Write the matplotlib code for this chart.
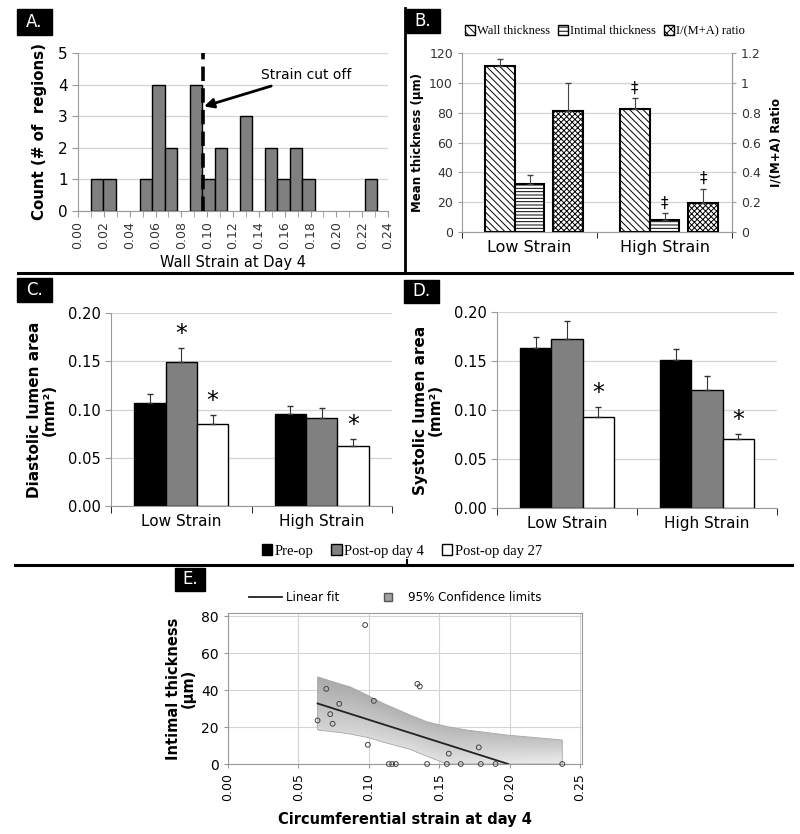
import matplotlib
matplotlib.use('Agg')
import matplotlib.pyplot as plt
from matplotlib.patches import Rectangle, Patch, Polygon
from matplotlib.lines import Line2D
import numpy as np

# ---- A: histogram of wall strain at day 4 ----
hist_left = [0.0098, 0.0196, 0.0477, 0.0575, 0.0673, 0.0866, 0.0963, 0.1060,
             0.1253, 0.1446, 0.1543, 0.1640, 0.1736, 0.2220]
hist_count = [1, 1, 1, 4, 2, 4, 1, 2, 3, 2, 1, 2, 1, 1]
hist_width = 0.0097
cutoff = 0.097

# ---- B: thickness by strain group ----
groups = ['Low Strain', 'High Strain']
wall_mean = [111, 82.5]
wall_err = [5, 7]
intimal_mean = [32, 8]
intimal_err = [6, 4.5]
ratio_mean = [0.81, 0.195]
ratio_err = [0.19, 0.095]

# ---- C: diastolic lumen area ----
dia_pre = [0.107, 0.095]
dia_pre_err = [0.009, 0.009]
dia_d4 = [0.149, 0.091]
dia_d4_err = [0.015, 0.011]
dia_d27 = [0.085, 0.062]
dia_d27_err = [0.009, 0.007]

# ---- D: systolic lumen area ----
sys_pre = [0.163, 0.151]
sys_pre_err = [0.011, 0.011]
sys_d4 = [0.172, 0.120]
sys_d4_err = [0.019, 0.015]
sys_d27 = [0.093, 0.070]
sys_d27_err = [0.010, 0.006]

# ---- E: intimal thickness vs circumferential strain ----
strain = [0.0636, 0.0698, 0.0726, 0.0743, 0.0790, 0.0974, 0.0993, 0.1036,
          0.1142, 0.1166, 0.1192, 0.1345, 0.1362, 0.1414, 0.1554, 0.1568,
          0.1653, 0.1781, 0.1795, 0.1900, 0.2374]
intimal = [23.6, 40.7, 27.0, 21.8, 32.6, 75.3, 10.4, 34.2,
           0, 0, 0, 43.4, 42.0, 0, 0, 5.6,
           0, 9.0, 0, 0, 0]
fit_x = [0.0636, 0.199]
fit_y = [32.8, 0.0]
band_x = [0.0636, 0.080, 0.0868, 0.099, 0.1104, 0.1294, 0.1412, 0.1554, 0.1696, 0.198, 0.2374]
band_hi = [47.2, 43.3, 41.8, 37.3, 32.8, 26.5, 22.9, 20.3, 18.4, 15.7, 13.0]
band_lo = [18.4, 17.0, 16.2, 14.4, 11.8, 7.9, 4.2, 0.0, 0.0, 0.0, 0.0]

W, H = 800, 834
plt.rcParams['font.family'] = 'DejaVu Sans'
plt.rcParams['hatch.linewidth'] = 0.7
GRID = '#d4d4d4'
SPINE = '#9a9a9a'
SERIF = 'Liberation Serif'

fig = plt.figure(figsize=(W / 100, H / 100), dpi=100)


def px_axes(l, t, r, b):
    return fig.add_axes([l / W, 1 - b / H, (r - l) / W, (b - t) / H])


def panel_label(txt, l, t, r, b):
    fig.patches.append(Rectangle((l / W, 1 - b / H), (r - l) / W, (b - t) / H,
                                 transform=fig.transFigure, color='black'))
    fig.text((l + r) / 2 / W, 1 - (t + b) / 2 / H, txt, color='white',
             fontsize=12, ha='center', va='center')


def fig_line(xs, ys, lw=2.2):
    fig.lines.append(Line2D([x / W for x in xs], [1 - y / H for y in ys],
                            transform=fig.transFigure, color='black', lw=lw))


def plain_spines(ax, keep=('left', 'bottom')):
    for s in ax.spines:
        ax.spines[s].set_visible(s in keep)
        ax.spines[s].set_color(SPINE)
    ax.set_axisbelow(True)
    ax.yaxis.grid(True, color=GRID, lw=0.9)
    ax.tick_params(color=SPINE)


# ---------------- Panel A ----------------
axA = px_axes(78, 53, 388, 211)
axA.bar(hist_left, hist_count, width=hist_width, align='edge',
        color='#808080', edgecolor='black', lw=1.0, zorder=2)
axA.plot([cutoff, cutoff], [0, 5], color='black', lw=2.6, dashes=(4, 2), zorder=3)
axA.annotate('Strain cut off', xy=(0.0976, 3.31), xytext=(0.1416, 4.29),
             fontsize=10, va='center', ha='left',
             arrowprops=dict(arrowstyle='-|>', color='black', lw=2,
                             mutation_scale=14, shrinkA=2, shrinkB=0))
axA.set_xlim(0, 0.24)
axA.set_ylim(0, 5)
axA.set_xticks(np.arange(0, 0.241, 0.02))
axA.set_xticks(np.arange(0, 0.241, 0.01), minor=True)
axA.set_xticklabels(['%.2f' % v for v in np.arange(0, 0.241, 0.02)],
                    rotation=90, fontsize=9, color='#333333')
axA.set_yticks(range(6))
axA.tick_params(axis='y', labelsize=11, length=4)
axA.tick_params(axis='x', which='both', length=4, color=SPINE)
plain_spines(axA)
axA.set_ylabel('Count (# of  regions)', fontsize=10.8, fontweight='bold', labelpad=8)
axA.set_xlabel('Wall Strain at Day 4', fontsize=10.5, labelpad=4)
panel_label('A.', 17, 9, 52, 35)

# ---------------- Panel B ----------------
axB = px_axes(462, 53, 732, 232)
axB2 = axB.twinx()
xg = np.arange(len(groups))
bw = 0.222
axB.bar(xg - 0.222, wall_mean, bw, yerr=[[0, 0], wall_err], facecolor='white',
        edgecolor='black', hatch='\\\\\\\\\\', lw=1.5,
        error_kw=dict(ecolor='#444444', elinewidth=0.8, capsize=2), zorder=2)
axB.bar(xg, intimal_mean, bw, yerr=[[0, 0], intimal_err], facecolor='white',
        edgecolor='black', hatch='-----', lw=1.5,
        error_kw=dict(ecolor='#444444', elinewidth=0.8, capsize=2), zorder=2)
axB2.bar(xg + 0.285, ratio_mean, bw, yerr=[[0, 0], ratio_err], facecolor='white',
         edgecolor='black', hatch='xxxxxx', lw=1.5,
         error_kw=dict(ecolor='#444444', elinewidth=0.8, capsize=2), zorder=2)
axB.set_xlim(-0.5, 1.5)
axB.set_ylim(0, 120)
axB2.set_ylim(0, 1.2)
axB.set_yticks(range(0, 121, 20))
axB2.set_yticks(np.arange(0, 1.21, 0.2))
axB2.set_yticklabels(['0', '0.2', '0.4', '0.6', '0.8', '1', '1.2'])
axB.set_xticks(xg)
axB.set_xticklabels(groups, fontsize=11.5)
axB.set_xticks([-0.5, 0.5, 1.5], minor=True)
axB.tick_params(axis='x', which='major', length=0, pad=6)
axB.tick_params(axis='x', which='minor', length=4)
axB.tick_params(axis='y', labelsize=9, length=3, labelcolor='#333333')
axB2.tick_params(axis='y', labelsize=9, length=3, labelcolor='#333333', color=SPINE)
plain_spines(axB, keep=('left', 'bottom', 'right'))
for s in axB2.spines:
    axB2.spines[s].set_visible(s == 'right')
    axB2.spines[s].set_color(SPINE)
axB.set_ylabel('Mean thickness (µm)', fontsize=8.5, fontweight='bold', labelpad=4)
axB2.set_ylabel('I/(M+A) Ratio', fontsize=8.5, fontweight='bold', labelpad=6)
for xv, yv in [(1 - 0.222, wall_mean[1] + wall_err[1]),
               (1, intimal_mean[1] + intimal_err[1])]:
    axB.text(xv, yv + 2, '‡', ha='center', va='bottom', fontsize=11)
axB2.text(1 + 0.285, ratio_mean[1] + ratio_err[1] + 0.02, '‡',
          ha='center', va='bottom', fontsize=11)
legB = [Patch(facecolor='white', edgecolor='black', hatch='\\\\\\\\'),
        Patch(facecolor='white', edgecolor='black', hatch='----'),
        Patch(facecolor='white', edgecolor='black', hatch='xxxx')]
fig.legend(legB, ['Wall thickness', 'Intimal thickness', 'I/(M+A) ratio'],
           loc='center', bbox_to_anchor=(605 / W, 1 - 31 / H), ncol=3,
           frameon=False, prop=dict(family=SERIF, size=9),
           handlelength=0.8, handleheight=0.8, handletextpad=0.2,
           columnspacing=0.6)
panel_label('B.', 406, 9, 440, 33)


# ---------------- Panels C and D ----------------
def lumen_panel(box, pre, pre_e, d4, d4_e, d27, d27_e, ylabel, stars):
    ax = px_axes(*box)
    ek = dict(ecolor='#333333', elinewidth=0.8, capsize=2)
    ax.bar(xg - 0.224, pre, 0.224, yerr=[[0, 0], pre_e], color='black',
           edgecolor='black', lw=1, error_kw=ek, zorder=2)
    ax.bar(xg, d4, 0.224, yerr=[[0, 0], d4_e], color='#808080',
           edgecolor='black', lw=1, error_kw=ek, zorder=2)
    ax.bar(xg + 0.224, d27, 0.224, yerr=[[0, 0], d27_e], color='white',
           edgecolor='black', lw=1, error_kw=ek, zorder=2)
    series = {'pre': (pre, pre_e, -0.224), 'd4': (d4, d4_e, 0.0),
              'd27': (d27, d27_e, 0.224)}
    for key, g in stars:
        vals, errs, off = series[key]
        ax.text(g + off, vals[g] + errs[g] + 0.002, '*', ha='center',
                va='bottom', fontsize=17)
    ax.set_xlim(-0.5, 1.5)
    ax.set_ylim(0, 0.2)
    ax.set_yticks(np.arange(0, 0.201, 0.05))
    ax.set_yticklabels(['%.2f' % v for v in np.arange(0, 0.201, 0.05)])
    ax.set_xticks(xg)
    ax.set_xticklabels(groups, fontsize=11)
    ax.set_xticks([-0.5, 0.5, 1.5], minor=True)
    ax.tick_params(axis='x', which='major', length=0, pad=6)
    ax.tick_params(axis='x', which='minor', length=5)
    ax.tick_params(axis='y', labelsize=10.5, length=4)
    plain_spines(ax)
    ax.set_ylabel(ylabel, fontsize=11, fontweight='bold', labelpad=8,
                  linespacing=1.0)
    return ax


lumen_panel((111, 313, 392, 506), dia_pre, dia_pre_err, dia_d4, dia_d4_err,
            dia_d27, dia_d27_err, 'Diastolic lumen area\n(mm²)',
            [('d4', 0), ('d27', 0), ('d27', 1)])
lumen_panel((497, 312, 777, 508), sys_pre, sys_pre_err, sys_d4, sys_d4_err,
            sys_d27, sys_d27_err, 'Systolic lumen area\n(mm²)',
            [('d27', 0), ('d27', 1)])
panel_label('C.', 17, 278, 52, 302)
panel_label('D.', 404, 280, 439, 303)
legCD = [Patch(facecolor='black', edgecolor='black'),
         Patch(facecolor='#808080', edgecolor='black'),
         Patch(facecolor='white', edgecolor='black')]
fig.legend(legCD, ['Pre-op', 'Post-op day 4', 'Post-op day 27'],
           loc='center', bbox_to_anchor=(402 / W, 1 - 551 / H), ncol=3,
           frameon=False, prop=dict(family=SERIF, size=10.5),
           handlelength=0.7, handleheight=0.7, handletextpad=0.2,
           columnspacing=1.2)

# ---------------- Panel E ----------------
axE = px_axes(228, 613, 582, 764)
poly = np.column_stack([band_x + band_x[::-1], band_hi + band_lo[::-1]])
patch = Polygon(poly, closed=True, facecolor='none', edgecolor='#a8a8a8',
                lw=0.6, zorder=2)
axE.add_patch(patch)
gx, gy = np.meshgrid(np.linspace(0.06, 0.24, 200), np.linspace(0, 48, 200))
lo = np.interp(gx, band_x, band_lo)
hi = np.interp(gx, band_x, band_hi)
t = np.clip((gy - lo) / np.maximum(hi - lo, 1e-6), 0, 1)
shade = 0.93 - 0.17 * t - 0.10 * (1 - (gx - 0.06) / 0.18)
img = axE.imshow(shade, cmap='gray', vmin=0, vmax=1, origin='lower',
                 extent=[0.06, 0.24, 0, 48], aspect='auto', zorder=1)
img.set_clip_path(patch)
axE.plot(fit_x, fit_y, color='#222222', lw=1.3, zorder=3)
axE.scatter(strain, intimal, s=12, facecolors='none', edgecolors='#444444',
            linewidths=0.7, zorder=4, clip_on=False)
axE.set_xlim(0, 0.2514)
axE.set_ylim(0, 81.8)
axE.set_xticks(np.arange(0, 0.251, 0.05))
axE.set_xticklabels(['%.2f' % v for v in np.arange(0, 0.251, 0.05)],
                    rotation=90, fontsize=9)
axE.set_yticks(range(0, 81, 20))
axE.tick_params(axis='y', labelsize=10, length=3, color=SPINE)
axE.tick_params(axis='x', length=3, color=SPINE)
for s in axE.spines.values():
    s.set_color(SPINE)
axE.set_axisbelow(True)
axE.grid(True, color=GRID, lw=0.8)
axE.set_xlabel('Circumferential strain at day 4', fontsize=10.5,
               fontweight='bold', labelpad=8)
axE.set_ylabel('Intimal thickness\n(µm)', fontsize=10.5, fontweight='bold',
               labelpad=4, linespacing=1.0)
legE = [Line2D([0], [0], color='#222222', lw=1.3),
        Line2D([0], [0], marker='s', color='none', markerfacecolor='#a0a0a0',
               markeredgecolor='#555555', markersize=6)]
axE.legend(legE, ['Linear fit', '95% Confidence limits'], loc='lower center',
           bbox_to_anchor=(0.473, 0.99), ncol=2, frameon=False, fontsize=8.6,
           handlelength=2.8, handletextpad=0.3, columnspacing=2.7)
panel_label('E.', 175, 568, 205, 591)

# ---------------- dividers ----------------
fig_line([405, 405], [8, 273], lw=2.0)
fig_line([18, 792], [273, 273], lw=2.2)
fig_line([15, 792], [565, 565], lw=2.2)
fig_line([407, 407], [560, 565], lw=1.5)

fig.savefig('out.png', dpi=100, facecolor='white')
